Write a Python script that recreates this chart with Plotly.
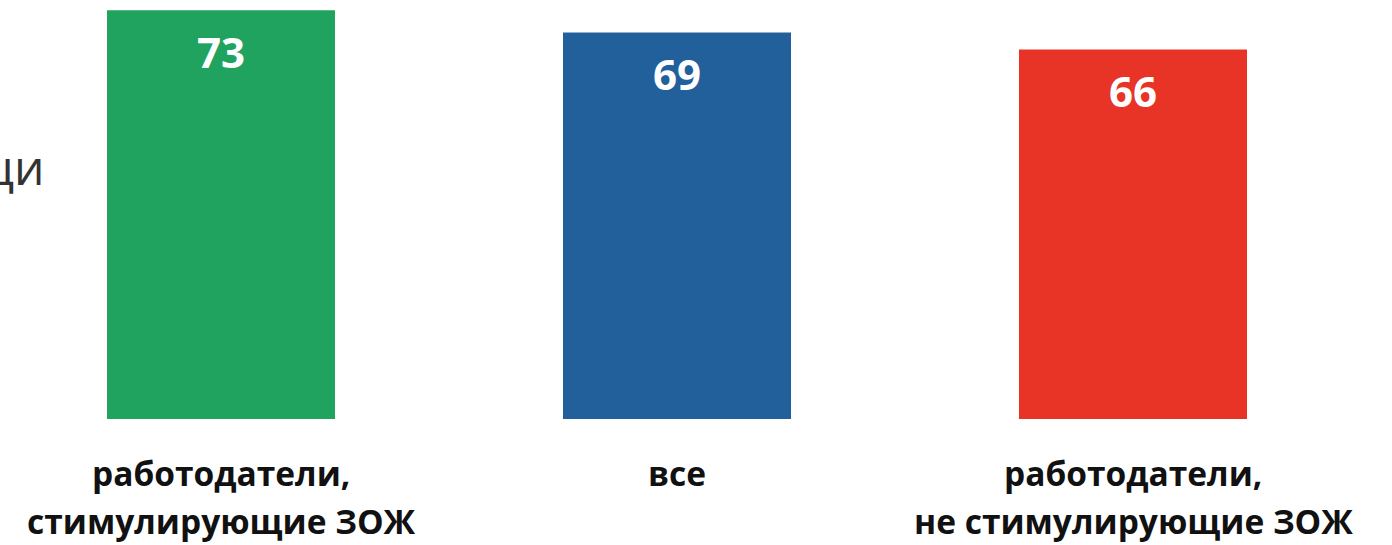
import plotly.graph_objects as go

categories = ["работодатели, стимулирующие ЗОЖ", "все", "работодатели, не стимулирующие ЗОЖ"]
label_line1 = ["работодатели,", "все", "работодатели,"]
label_line2 = ["стимулирующие ЗОЖ", "", "не стимулирующие ЗОЖ"]
values = [73, 69, 66]
colors = ["#20a35f", "#22609c", "#e73426"]
side_text = "ци"

W, H = 1392, 545
FONT = "Open Sans"

fig = go.Figure(go.Bar(
    x=list(range(len(categories))),
    y=values,
    marker=dict(color=colors, line=dict(width=0)),
    width=0.5,
    hoverinfo="skip",
))

annotations = []
for i, v in enumerate(values):
    annotations.append(dict(
        x=i, y=v, xref="x", yref="y", text=f"<b>{v}</b>", showarrow=False,
        yanchor="middle", yshift=-41, font=dict(family=FONT, size=42, color="white"),
    ))
    annotations.append(dict(
        x=i, y=0, xref="x", yref="y", text=f"<b>{label_line1[i]}</b>", showarrow=False,
        yanchor="middle", yshift=-54, font=dict(family=FONT, size=33.5, color="#111111"),
    ))
    if label_line2[i]:
        annotations.append(dict(
            x=i, y=0, xref="x", yref="y", text=f"<b>{label_line2[i]}</b>", showarrow=False,
            yanchor="middle", yshift=-102, font=dict(family=FONT, size=33.5, color="#111111"),
        ))

plot_h = 419
annotations.append(dict(
    x=47 / W, y=1 - 167 / plot_h, xref="paper", yref="paper",
    text=side_text, showarrow=False,
    xanchor="right", yanchor="middle", font=dict(family=FONT, size=48, color="#333333"),
))

px_per_unit = 456
r0 = -221 / px_per_unit
r1 = r0 + W / px_per_unit

fig.update_layout(
    width=W, height=H,
    margin=dict(l=0, r=0, t=0, b=H - plot_h, pad=0),
    paper_bgcolor="white", plot_bgcolor="white",
    showlegend=False,
    xaxis=dict(range=[r0, r1], showticklabels=False, showgrid=False, zeroline=False,
               showline=False, ticks=""),
    yaxis=dict(range=[0, plot_h / 5.6], showticklabels=False, showgrid=False, zeroline=False,
               showline=False, ticks=""),
    annotations=annotations,
)

fig.write_html("out.html", config={"displayModeBar": False},
               post_script="document.body.style.margin='0';")
